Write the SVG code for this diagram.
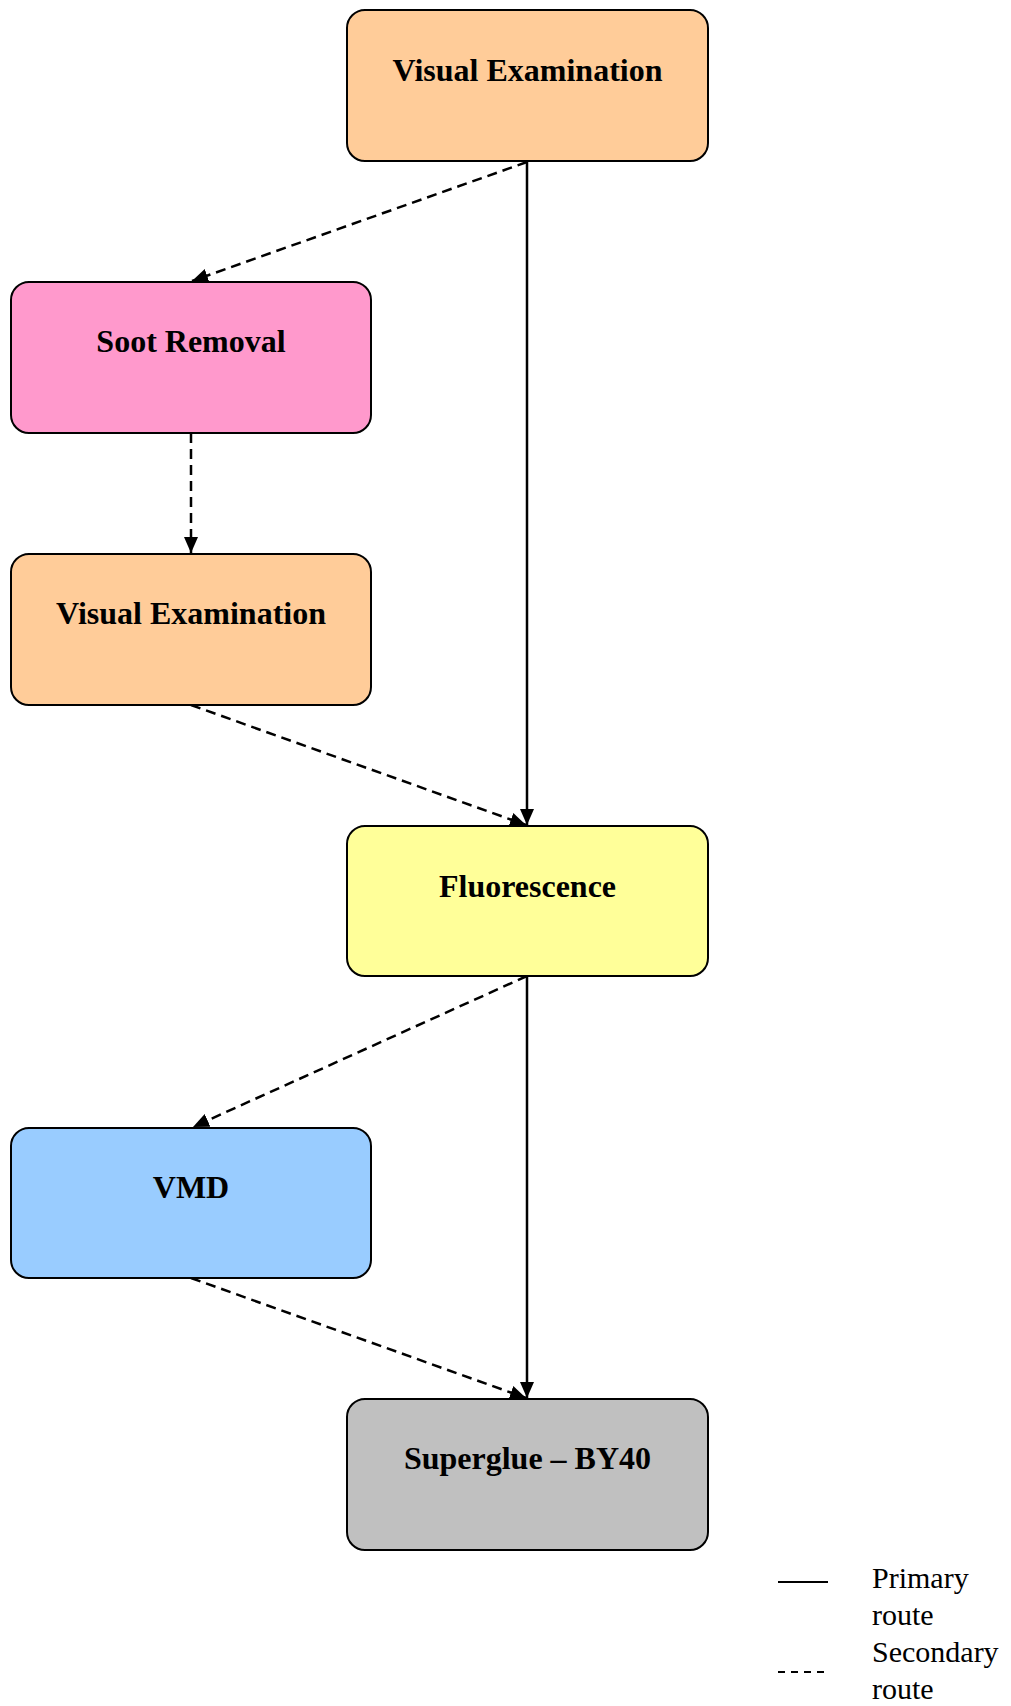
<svg xmlns="http://www.w3.org/2000/svg" width="1011" height="1706" viewBox="0 0 1011 1706">
<style>
.box{stroke:#000;stroke-width:2}
.lbl{font-family:"Liberation Serif","Times New Roman",serif;font-weight:bold;font-size:32px;text-anchor:middle;fill:#000}
.leg{font-family:"Liberation Serif","Times New Roman",serif;font-size:30px;fill:#000}
.solid{stroke:#000;stroke-width:2.5;fill:none}
.dash{stroke:#000;stroke-width:2.5;fill:none;stroke-dasharray:10 6}
</style>
<defs>
<marker id="arr" markerUnits="userSpaceOnUse" markerWidth="17" markerHeight="14" refX="16" refY="7" orient="auto">
<path d="M0,0 L16,7 L0,14 z" fill="#000"/>
</marker>
</defs>
<rect width="1011" height="1706" fill="#fff"/>
<g id="connectors">
<line class="solid" x1="527" y1="162" x2="527" y2="825" marker-end="url(#arr)"/>
<line class="dash" x1="527" y1="162" x2="192" y2="281" marker-end="url(#arr)"/>
<line class="dash" x1="191" y1="433" x2="191" y2="553" marker-end="url(#arr)"/>
<line class="dash" x1="191" y1="705" x2="526" y2="825" marker-end="url(#arr)"/>
<line class="solid" x1="527" y1="976" x2="527" y2="1398" marker-end="url(#arr)"/>
<line class="dash" x1="527" y1="976" x2="193" y2="1127" marker-end="url(#arr)"/>
<line class="dash" x1="191" y1="1278" x2="526" y2="1398" marker-end="url(#arr)"/>
</g>
<g id="n1"><rect class="box" x="347" y="10" width="361" height="151" rx="18" fill="#FFCC99"/><text class="lbl" x="527.5" y="81">Visual Examination</text></g>
<g id="n2"><rect class="box" x="11" y="282" width="360" height="151" rx="18" fill="#FF99CC"/><text class="lbl" x="191" y="352">Soot Removal</text></g>
<g id="n3"><rect class="box" x="11" y="554" width="360" height="151" rx="18" fill="#FFCC99"/><text class="lbl" x="191" y="624">Visual Examination</text></g>
<g id="n4"><rect class="box" x="347" y="826" width="361" height="150" rx="18" fill="#FFFF99"/><text class="lbl" x="527.5" y="897">Fluorescence</text></g>
<g id="n5"><rect class="box" x="11" y="1128" width="360" height="150" rx="18" fill="#99CCFF"/><text class="lbl" x="191" y="1198">VMD</text></g>
<g id="n6"><rect class="box" x="347" y="1399" width="361" height="151" rx="18" fill="#C0C0C0"/><text class="lbl" x="527.5" y="1469">Superglue – BY40</text></g>
<g id="legend">
<line x1="778" y1="1582" x2="828" y2="1582" stroke="#000" stroke-width="2"/>
<line x1="778" y1="1672" x2="828" y2="1672" stroke="#000" stroke-width="2" stroke-dasharray="7 6"/>
<text class="leg" x="872" y="1588">Primary</text>
<text class="leg" x="872" y="1625">route</text>
<text class="leg" x="872" y="1662">Secondary</text>
<text class="leg" x="872" y="1699">route</text>
</g>
</svg>
